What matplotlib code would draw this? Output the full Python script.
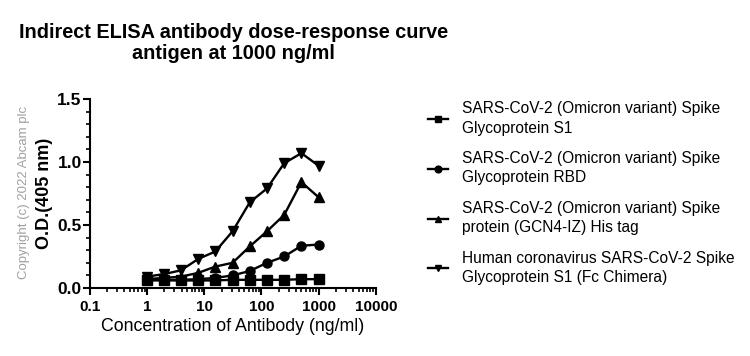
import numpy as np
import matplotlib.pyplot as plt
from matplotlib.ticker import LogLocator, MultipleLocator, FixedLocator, NullFormatter

plt.rcParams['font.family'] = ['Liberation Sans', 'DejaVu Sans']

conc = [0.977, 1.95, 3.9, 7.8, 15.6, 31.25, 62.5, 125, 250, 500, 1000]

s1_omicron = [0.06, 0.06, 0.06, 0.06, 0.06, 0.065, 0.065, 0.065, 0.065, 0.07, 0.07]
rbd_omicron = [0.065, 0.065, 0.065, 0.07, 0.08, 0.10, 0.135, 0.20, 0.25, 0.335, 0.345]
gcn4_omicron = [0.07, 0.08, 0.09, 0.12, 0.17, 0.20, 0.33, 0.45, 0.58, 0.84, 0.72]
fc_chimera = [0.09, 0.11, 0.14, 0.23, 0.29, 0.45, 0.68, 0.79, 0.99, 1.07, 0.97]

labels = [
    'SARS-CoV-2 (Omicron variant) Spike\nGlycoprotein S1',
    'SARS-CoV-2 (Omicron variant) Spike\nGlycoprotein RBD',
    'SARS-CoV-2 (Omicron variant) Spike\nprotein (GCN4-IZ) His tag',
    'Human coronavirus SARS-CoV-2 Spike\nGlycoprotein S1 (Fc Chimera)',
]

fig = plt.figure(figsize=(7.5, 3.56), dpi=100)
ax = fig.add_axes([0.12, 0.191, 0.381, 0.531])

series = [s1_omicron, rbd_omicron, gcn4_omicron, fc_chimera]
markers = ['s', 'o', '^', 'v']
for vals, m, lab in zip(series, markers, labels):
    ax.plot(conc, vals, color='black', marker=m, markersize=6.5, linewidth=1.7, label=lab)

ax.set_xscale('log')
ax.set_xlim(0.1, 10000)
ax.set_ylim(0, 1.5)
ax.xaxis.set_major_locator(FixedLocator([0.1, 1, 10, 100, 1000, 10000]))
ax.set_xticklabels(['0.1', '1', '10', '100', '1000', '10000'])
ax.xaxis.set_minor_locator(LogLocator(base=10, subs=np.arange(2, 10)))
ax.xaxis.set_minor_formatter(NullFormatter())
ax.yaxis.set_major_locator(MultipleLocator(0.5))
ax.yaxis.set_minor_locator(MultipleLocator(0.1))
ax.yaxis.set_major_formatter(plt.FuncFormatter(lambda v, p: f'{v:.1f}'))

for side in ['top', 'right']:
    ax.spines[side].set_visible(False)
for side in ['left', 'bottom']:
    ax.spines[side].set_linewidth(1.5)

ax.tick_params(which='major', direction='out', length=5, width=1.5)
ax.tick_params(which='minor', direction='out', length=3, width=1.2)
ax.tick_params(axis='x', labelsize=11)
ax.tick_params(axis='y', labelsize=12.5, pad=1)
for t in ax.get_xticklabels() + ax.get_yticklabels():
    t.set_fontweight('bold')

ax.set_ylabel('O.D.(405 nm)', fontsize=13, fontweight='bold', labelpad=3)
ax.set_xlabel('Concentration of Antibody (ng/ml)', fontsize=12.8, labelpad=3)

fig.text(0.311, 0.935, 'Indirect ELISA antibody dose-response curve\nantigen at 1000 ng/ml',
         ha='center', va='top', fontsize=14.3, fontweight='bold', linespacing=1.15)

fig.text(0.032, 0.46, 'Copyright (c) 2022 Abcam plc', rotation=90, color='#a0a0a0',
         fontsize=9.5, ha='center', va='center')

leg = ax.legend(loc='upper left', bbox_to_anchor=(1.16, 1.02), frameon=False, fontsize=11.2,
                handlelength=1.3, handletextpad=0.9, labelspacing=1.0, markerscale=0.75,
                borderaxespad=0)
for t in leg.get_texts():
    t.set_linespacing(1.35)

fig.savefig('out.png', dpi=100)
